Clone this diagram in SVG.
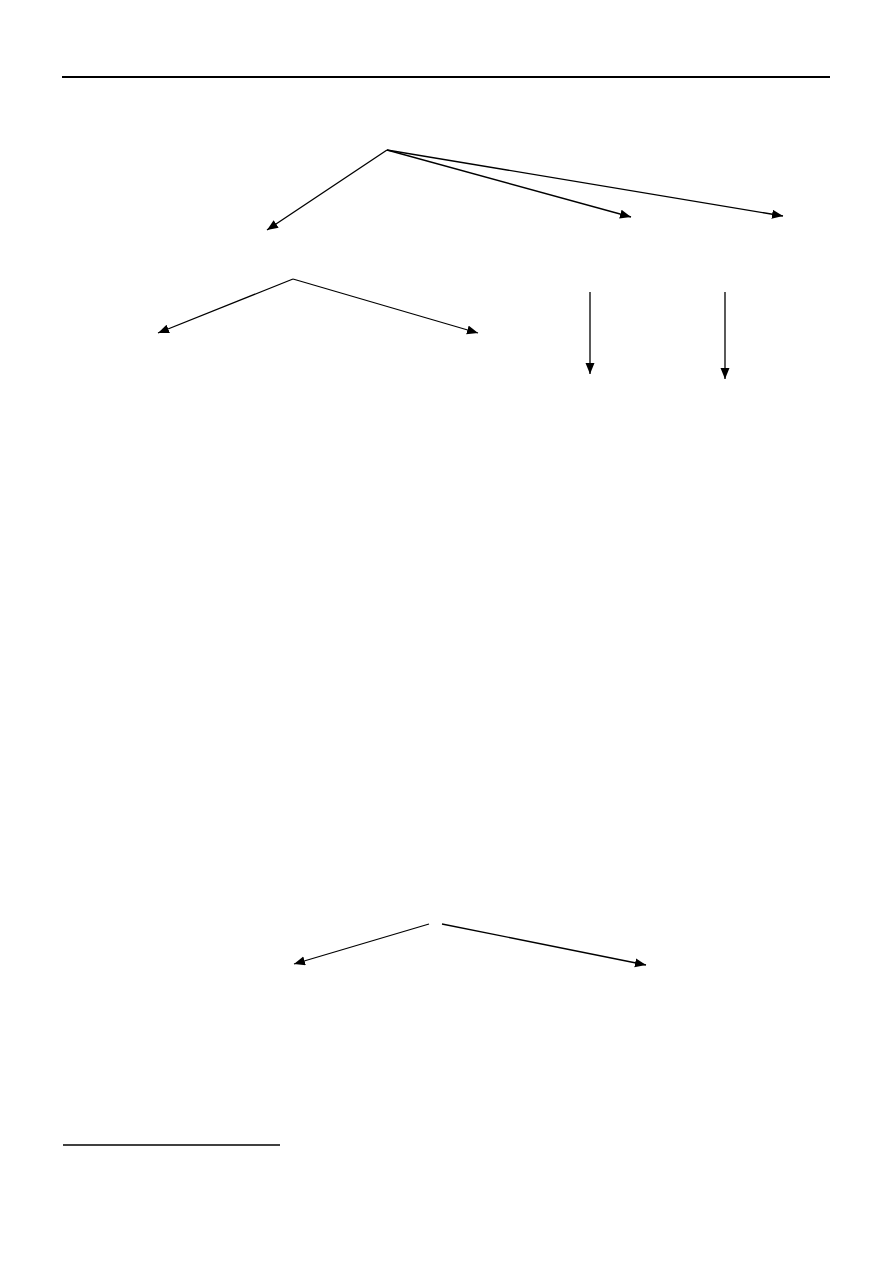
<svg xmlns="http://www.w3.org/2000/svg" width="893" height="1263" viewBox="0 0 893 1263">
<style>
.c{stroke:#000;stroke-width:1.3;fill:none;marker-end:url(#ah)}
.r{stroke:#000;fill:none}
</style>
<defs>
<marker id="ah" markerUnits="userSpaceOnUse" markerWidth="12" markerHeight="10" refX="11" refY="4.5" orient="auto">
<path d="M0,0 L11,4.5 L0,9 Z" fill="#000"/>
</marker>
</defs>
<rect width="893" height="1263" fill="#fff"/>
<g id="rules">
<line class="r" x1="62" y1="77" x2="830" y2="77" stroke-width="2.2"/>
<line class="r" x1="63" y1="1145" x2="280" y2="1145" stroke-width="1.3"/>
</g>
<g id="connectors">
<line class="c" x1="387" y1="150" x2="267" y2="230"/>
<line class="c" x1="387" y1="150" x2="631" y2="217"/>
<line class="c" x1="387" y1="150" x2="783" y2="216"/>
<line class="c" x1="293" y1="279" x2="158" y2="333"/>
<line class="c" x1="293" y1="279" x2="478" y2="333"/>
<line class="c" x1="590" y1="292" x2="590" y2="374"/>
<line class="c" x1="725" y1="292" x2="725" y2="379"/>
<line class="c" x1="429" y1="924" x2="294" y2="964"/>
<line class="c" x1="442" y1="924" x2="646" y2="965"/>
</g>
</svg>
